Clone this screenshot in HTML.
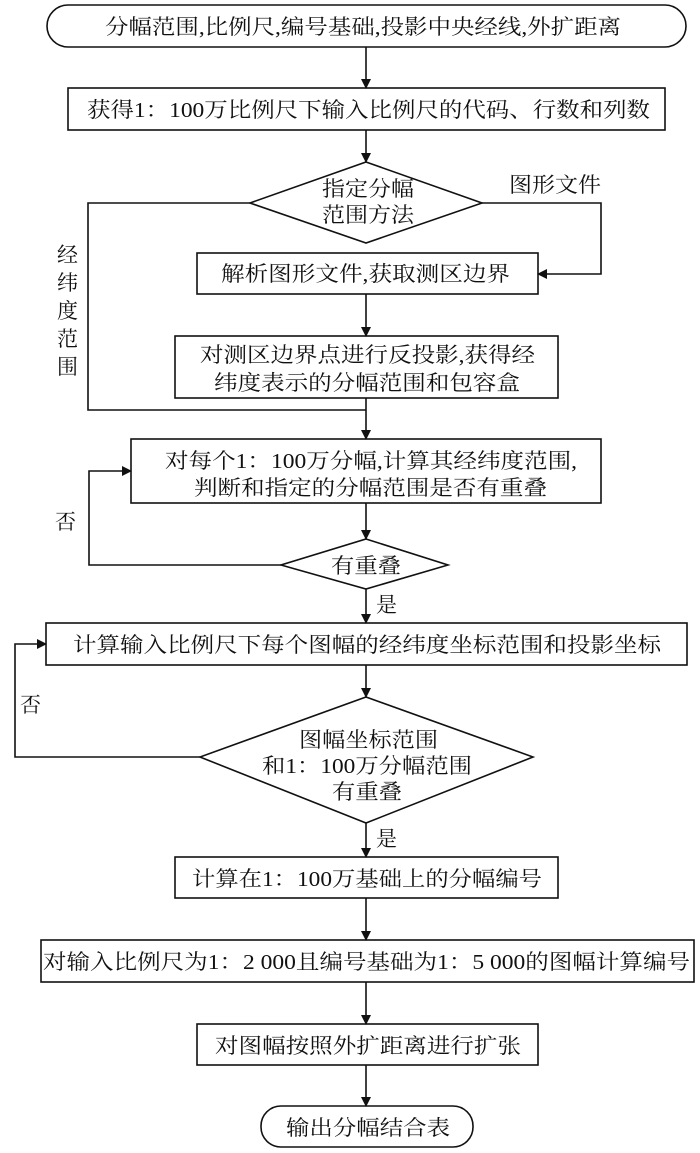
<!DOCTYPE html>
<html><head><meta charset="utf-8"><style>
html,body{margin:0;padding:0;background:#fff;}
svg{display:block;}
text{font-family:"Liberation Serif","Noto Serif CJK SC",serif;font-size:21px;fill:#111;}
</style></head><body>
<svg width="700" height="1153" viewBox="0 0 700 1153" xmlns="http://www.w3.org/2000/svg">
<defs><marker id="a" markerWidth="10" markerHeight="10" refX="9" refY="5" orient="auto" markerUnits="userSpaceOnUse"><path d="M0,0 L10,5 L0,10 Z" fill="#111"/></marker></defs>
<g fill="none" stroke="#111" stroke-width="1.6">
<rect x="47" y="5" width="639" height="42" rx="21"/>
<rect x="68" y="88" width="597" height="42"/>
<polygon points="366,162 482,203 366,243 250,203"/>
<rect x="197" y="253" width="341" height="41"/>
<rect x="175" y="336" width="383" height="62"/>
<rect x="131" y="439" width="470" height="64"/>
<polygon points="366,539 448,565 366,589 281,565"/>
<rect x="46" y="623" width="641" height="42"/>
<polygon points="366,697 533,757 366,823 200,757"/>
<rect x="175" y="857" width="383" height="41"/>
<rect x="41" y="940" width="653" height="42"/>
<rect x="197" y="1024" width="341" height="41"/>
<rect x="261" y="1106" width="212" height="41" rx="20"/>
<line x1="366" y1="47" x2="366" y2="88" marker-end="url(#a)"/>
<line x1="366" y1="130" x2="366" y2="162" marker-end="url(#a)"/>
<polyline points="482,203 601,203 601,274 538,274" marker-end="url(#a)"/>
<line x1="366" y1="294" x2="366" y2="336" marker-end="url(#a)"/>
<polyline points="250,203 88,203 88,410 366,410"/>
<line x1="366" y1="398" x2="366" y2="439" marker-end="url(#a)"/>
<line x1="366" y1="503" x2="366" y2="539" marker-end="url(#a)"/>
<polyline points="281,565 89,565 89,471 131,471" marker-end="url(#a)"/>
<line x1="366" y1="589" x2="366" y2="623" marker-end="url(#a)"/>
<line x1="366" y1="665" x2="366" y2="697" marker-end="url(#a)"/>
<polyline points="200,757 15,757 15,644 46,644" marker-end="url(#a)"/>
<line x1="366" y1="823" x2="366" y2="857" marker-end="url(#a)"/>
<line x1="366" y1="898" x2="366" y2="940" marker-end="url(#a)"/>
<line x1="366" y1="982" x2="366" y2="1024" marker-end="url(#a)"/>
<line x1="366" y1="1065" x2="366" y2="1106" marker-end="url(#a)"/>
</g>
<text x="105" y="34" textLength="516" lengthAdjust="spacingAndGlyphs">分幅范围,比例尺,编号基础,投影中央经线,外扩距离</text>
<text x="87" y="117" textLength="563" lengthAdjust="spacingAndGlyphs">获得1：100万比例尺下输入比例尺的代码、行数和列数</text>
<text x="322" y="196" textLength="92" lengthAdjust="spacingAndGlyphs">指定分幅</text>
<text x="322" y="222" textLength="92" lengthAdjust="spacingAndGlyphs">范围方法</text>
<text x="509" y="192" textLength="92" lengthAdjust="spacingAndGlyphs">图形文件</text>
<text x="221" y="281" textLength="289" lengthAdjust="spacingAndGlyphs">解析图形文件,获取测区边界</text>
<text x="200" y="362" textLength="335" lengthAdjust="spacingAndGlyphs">对测区边界点进行反投影,获得经</text>
<text x="214" y="390" textLength="306" lengthAdjust="spacingAndGlyphs">纬度表示的分幅范围和包容盒</text>
<text x="57" y="262">经</text><text x="57" y="290">纬</text><text x="57" y="318">度</text><text x="57" y="346">范</text><text x="57" y="374">围</text>
<text x="165" y="468" textLength="412" lengthAdjust="spacingAndGlyphs">对每个1：100万分幅,计算其经纬度范围,</text>
<text x="194" y="495" textLength="353" lengthAdjust="spacingAndGlyphs">判断和指定的分幅范围是否有重叠</text>
<text x="331" y="573" textLength="70" lengthAdjust="spacingAndGlyphs">有重叠</text>
<text x="55" y="529">否</text>
<text x="376" y="612">是</text>
<text x="73" y="652" textLength="588" lengthAdjust="spacingAndGlyphs">计算输入比例尺下每个图幅的经纬度坐标范围和投影坐标</text>
<text x="20" y="712">否</text>
<text x="299" y="747" textLength="139" lengthAdjust="spacingAndGlyphs">图幅坐标范围</text>
<text x="262" y="773" textLength="210" lengthAdjust="spacingAndGlyphs">和1：100万分幅范围</text>
<text x="332" y="799" textLength="70" lengthAdjust="spacingAndGlyphs">有重叠</text>
<text x="376" y="846">是</text>
<text x="192" y="886" textLength="350" lengthAdjust="spacingAndGlyphs">计算在1：100万基础上的分幅编号</text>
<text x="43" y="969" textLength="647" lengthAdjust="spacingAndGlyphs">对输入比例尺为1：2 000且编号基础为1：5 000的图幅计算编号</text>
<text x="215" y="1053" textLength="306" lengthAdjust="spacingAndGlyphs">对图幅按照外扩距离进行扩张</text>
<text x="286" y="1135" textLength="164" lengthAdjust="spacingAndGlyphs">输出分幅结合表</text>
</svg>
</body></html>
